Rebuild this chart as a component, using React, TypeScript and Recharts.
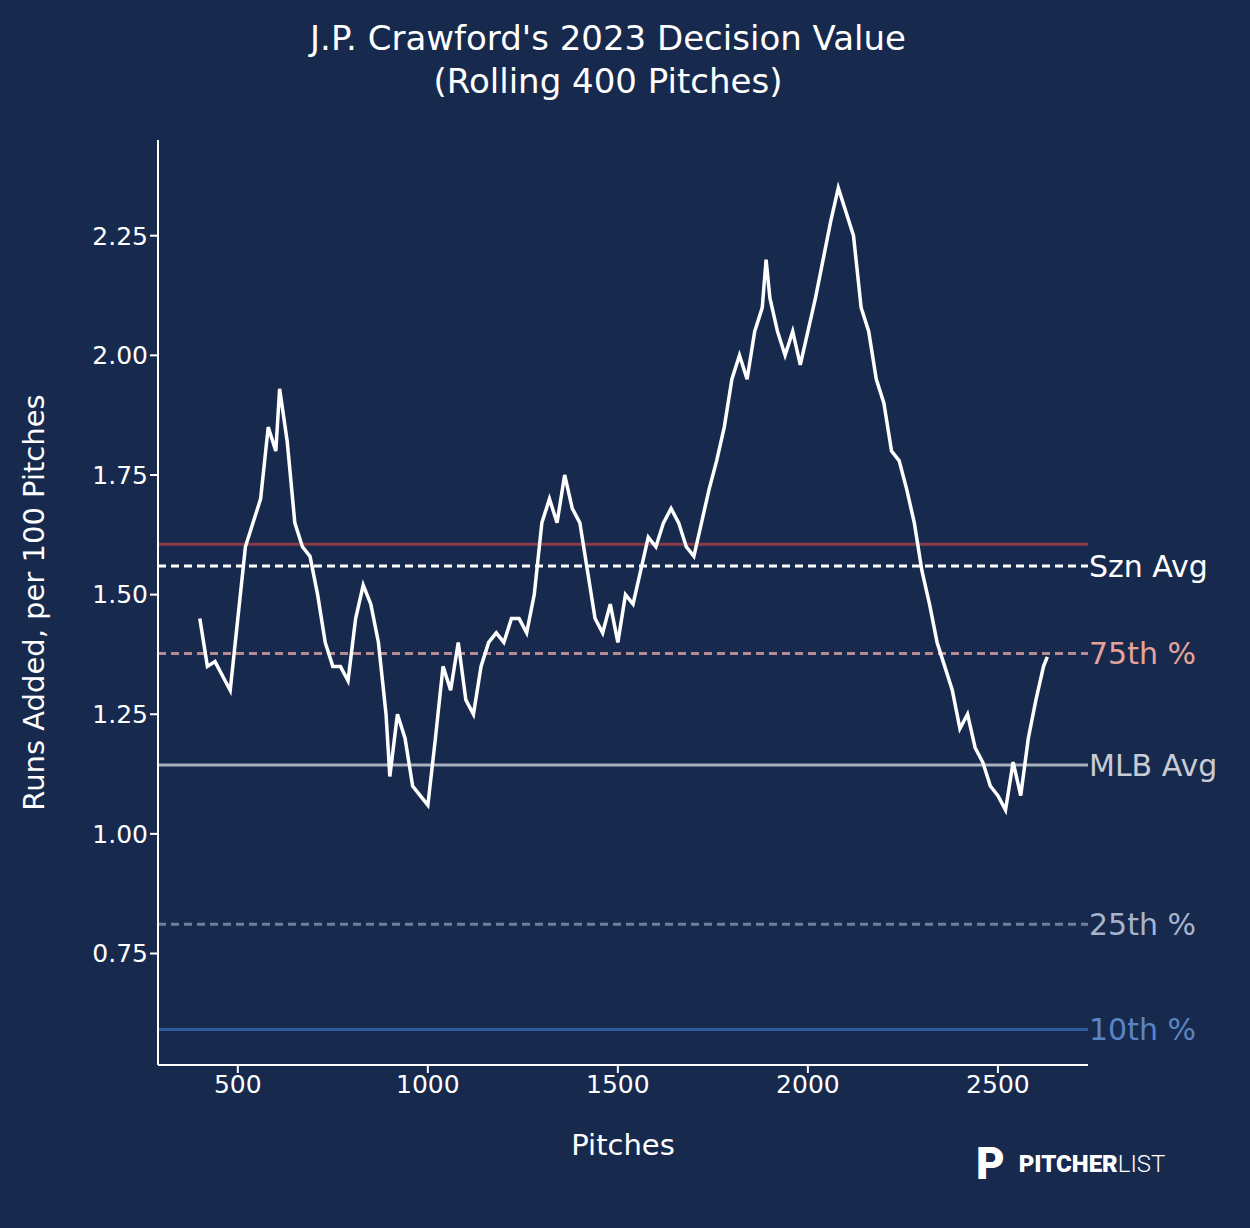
import { LineChart, Line, XAxis, YAxis, ReferenceLine } from "recharts";

const pitches = [
  400, 420, 440, 460, 480, 500, 520, 540, 560, 580, 600, 610, 630, 650, 670, 690, 710, 730, 750, 770,
  790, 810, 830, 850, 870, 890, 900, 920, 940, 960, 980, 1000, 1020, 1040, 1060, 1080, 1100, 1120, 1140, 1160,
  1180, 1200, 1220, 1240, 1260, 1280, 1300, 1320, 1340, 1360, 1380, 1400, 1420, 1440, 1460, 1480, 1500, 1520, 1540, 1560,
  1580, 1600, 1620, 1640, 1660, 1680, 1700, 1720, 1740, 1760, 1780, 1800, 1820, 1840, 1860, 1880, 1890, 1900, 1920, 1940,
  1960, 1980, 2000, 2020, 2040, 2060, 2080, 2100, 2120, 2140, 2160, 2180, 2200, 2220, 2240, 2260, 2280, 2300, 2320, 2340,
  2360, 2380, 2400, 2420, 2440, 2460, 2480, 2500, 2520, 2540, 2560, 2580, 2600, 2620, 2630,
];
const values = [
  1.45, 1.35, 1.36, 1.33, 1.3, 1.45, 1.6, 1.65, 1.7, 1.85, 1.8, 1.93, 1.82, 1.65, 1.6, 1.58, 1.5, 1.4, 1.35, 1.35,
  1.32, 1.45, 1.52, 1.48, 1.4, 1.25, 1.12, 1.25, 1.2, 1.1, 1.08, 1.06, 1.2, 1.35, 1.3, 1.4, 1.28, 1.25, 1.35, 1.4,
  1.42, 1.4, 1.45, 1.45, 1.42, 1.5, 1.65, 1.7, 1.65, 1.75, 1.68, 1.65, 1.55, 1.45, 1.42, 1.48, 1.4, 1.5, 1.48, 1.55,
  1.62, 1.6, 1.65, 1.68, 1.65, 1.6, 1.58, 1.65, 1.72, 1.78, 1.85, 1.95, 2.0, 1.95, 2.05, 2.1, 2.2, 2.12, 2.05, 2.0,
  2.05, 1.98, 2.05, 2.12, 2.2, 2.28, 2.35, 2.3, 2.25, 2.1, 2.05, 1.95, 1.9, 1.8, 1.78, 1.72, 1.65, 1.55, 1.48, 1.4,
  1.35, 1.3, 1.22, 1.25, 1.18, 1.15, 1.1, 1.08, 1.05, 1.15, 1.08, 1.2, 1.28, 1.35, 1.37,
];
const yTicks = [0.75, 1.0, 1.25, 1.5, 1.75, 2.0, 2.25];
const xTicks = [500, 1000, 1500, 2000, 2500];
const refLines = [
  { y: 1.605, color: "#8a3a48", dash: undefined, label: "", labelColor: "" },
  { y: 1.56, color: "#ffffff", dash: "8 5", label: "Szn Avg", labelColor: "#ffffff" },
  { y: 1.377, color: "#b98a93", dash: "8 5", label: "75th %", labelColor: "#e6a39a" },
  { y: 1.144, color: "#a9b0bd", dash: undefined, label: "MLB Avg", labelColor: "#c9ccd4" },
  { y: 0.811, color: "#6f7f9b", dash: "8 5", label: "25th %", labelColor: "#a8b4cc" },
  { y: 0.591, color: "#2e5aa0", dash: undefined, label: "10th %", labelColor: "#5b84c4" },
];

const data = pitches.map((p, i) => ({ p, v: values[i] }));
const BG = "#172a4e";
const FONT = "DejaVu Sans";

export default function App() {
  return (
    <div style={{ position: "absolute", left: 0, top: 0, width: 1250, height: 1228, background: BG, fontFamily: FONT }}>
      <div style={{ position: "absolute", top: 17, width: 1216, textAlign: "center", color: "#fff", fontSize: 34, lineHeight: "43px" }}>
        J.P. Crawford's 2023 Decision Value
        <br />
        (Rolling 400 Pitches)
      </div>
      <LineChart width={1250} height={1228} data={data} margin={{ top: 140, right: 162, bottom: 63, left: 20 }}>
        <XAxis
          dataKey="p"
          type="number"
          domain={[290, 2737]}
          ticks={xTicks}
          stroke="#fff"
          strokeWidth={2}
          tick={{ fill: "#fff", fontSize: 25, fontFamily: FONT }}
          tickSize={8}
          height={100}
          label={{ value: "Pitches", position: "insideBottom", offset: 10, fill: "#fff", fontSize: 29, fontFamily: FONT }}
        />
        <YAxis
          type="number"
          domain={[0.517, 2.45]}
          ticks={yTicks}
          tickFormatter={(v: number) => v.toFixed(2)}
          stroke="#fff"
          strokeWidth={2}
          tick={{ fill: "#fff", fontSize: 25, fontFamily: FONT }}
          tickSize={8}
          width={138}
          label={{ value: "Runs Added, per 100 Pitches", angle: -90, position: "insideLeft", offset: 0, dx: 14, fill: "#fff", fontSize: 29, fontFamily: FONT, style: { textAnchor: "middle" } }}
        />
        {refLines.map((r) => (
          <ReferenceLine
            key={r.y}
            y={r.y}
            stroke={r.color}
            strokeWidth={3}
            strokeDasharray={r.dash}
            label={r.label ? { value: r.label, position: "right", fill: r.labelColor, fontSize: 30, fontFamily: FONT, dx: -4 } : undefined}
          />
        ))}
        <Line dataKey="v" stroke="#fff" strokeWidth={3.5} dot={false} isAnimationActive={false} type="linear" />
      </LineChart>
      <div style={{ position: "absolute", left: 976, top: 1138, color: "#fff", fontSize: 24, fontFamily: "Roboto" }}>
        <span style={{ fontSize: 44, fontWeight: 900, marginRight: 14, verticalAlign: "middle" }}>P</span>
        <span style={{ fontWeight: 900, verticalAlign: "middle" }}>PITCHER</span>
        <span style={{ fontWeight: 300, verticalAlign: "middle" }}>LIST</span>
      </div>
    </div>
  );
}
